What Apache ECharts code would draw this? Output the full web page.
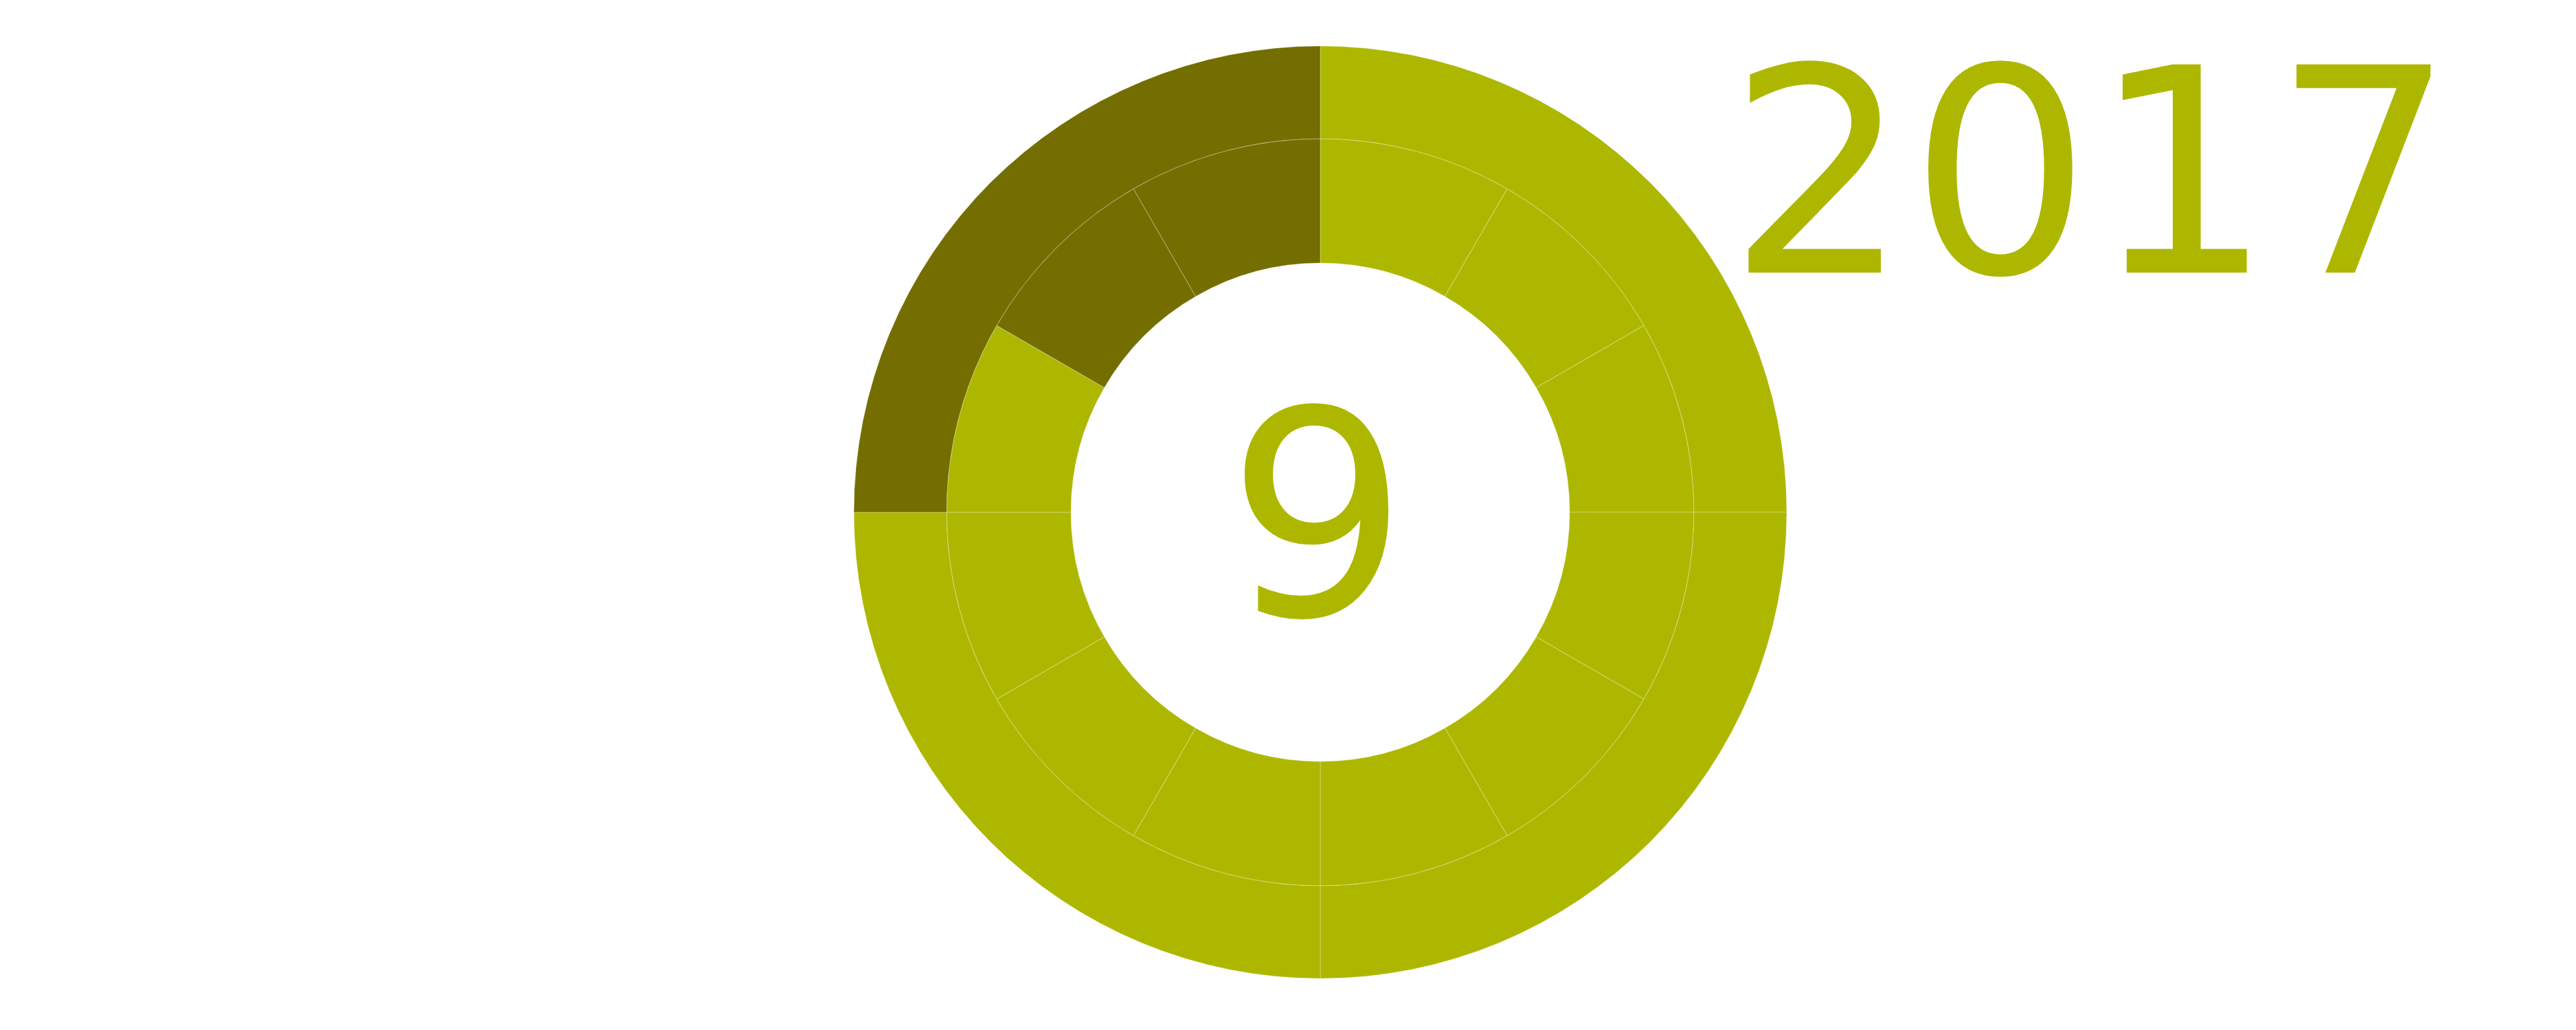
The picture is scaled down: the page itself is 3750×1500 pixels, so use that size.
<!DOCTYPE html>
<html>
<head>
<meta charset="utf-8">
<script src="https://cdn.jsdelivr.net/npm/echarts@6/dist/echarts.min.js"></script>
<style>
html,body{margin:0;padding:0;background:#fff;}
#chart{width:3750px;height:1500px;}
</style>
</head>
<body>
<div id="chart"></div>
<script>
// ---- data ----
var yearLabel = '2017';
var monthLabel = '9';
var months = ['1','2','3','4','5','6','7','8','9','10','11','12'];
var monthValues = [1,1,1,1,1,1,1,1,1,1,1,1];
var monthDone = [true,true,true,true,true,true,true,true,true,true,false,false];
var quarters = ['Q1','Q2','Q3','Q4'];
var quarterValues = [1,1,1,1];
var quarterDone = [true,true,true,false];

var LIGHT = '#aeb700';
var DARK = '#746e00';

function build(names, values, done){
  return names.map(function(n,i){
    return {name:n, value:values[i], itemStyle:{color: done[i] ? LIGHT : DARK}};
  });
}

var chart = echarts.init(document.getElementById('chart'), null, {renderer:'canvas'});
var center = [1922, 746];
chart.setOption({
  backgroundColor:'#ffffff',
  animation:false,
  series:[
    {
      type:'pie', center:center, radius:[363,544],
      startAngle:90, clockwise:true, silent:true,
      label:{show:false}, labelLine:{show:false},
      itemStyle:{borderColor:'rgba(255,255,255,0.3)', borderWidth:1},
      data: build(months, monthValues, monthDone)
    },
    {
      type:'pie', center:center, radius:[544,679],
      startAngle:90, clockwise:true, silent:true,
      label:{show:false}, labelLine:{show:false},
      itemStyle:{borderColor:'rgba(255,255,255,0.3)', borderWidth:1},
      data: build(quarters, quarterValues, quarterDone)
    }
  ],
  graphic:[
    {type:'text', x:1918, y:788, silent:true,
     style:{text:monthLabel, fill:LIGHT, font:'416px "DejaVu Sans"', textAlign:'center', textVerticalAlign:'middle'}},
    {type:'text', x:2515, y:289, silent:true,
     style:{text:yearLabel, fill:LIGHT, font:'416px "DejaVu Sans"', textAlign:'left', textVerticalAlign:'middle'}}
  ]
});
</script>
</body>
</html>
